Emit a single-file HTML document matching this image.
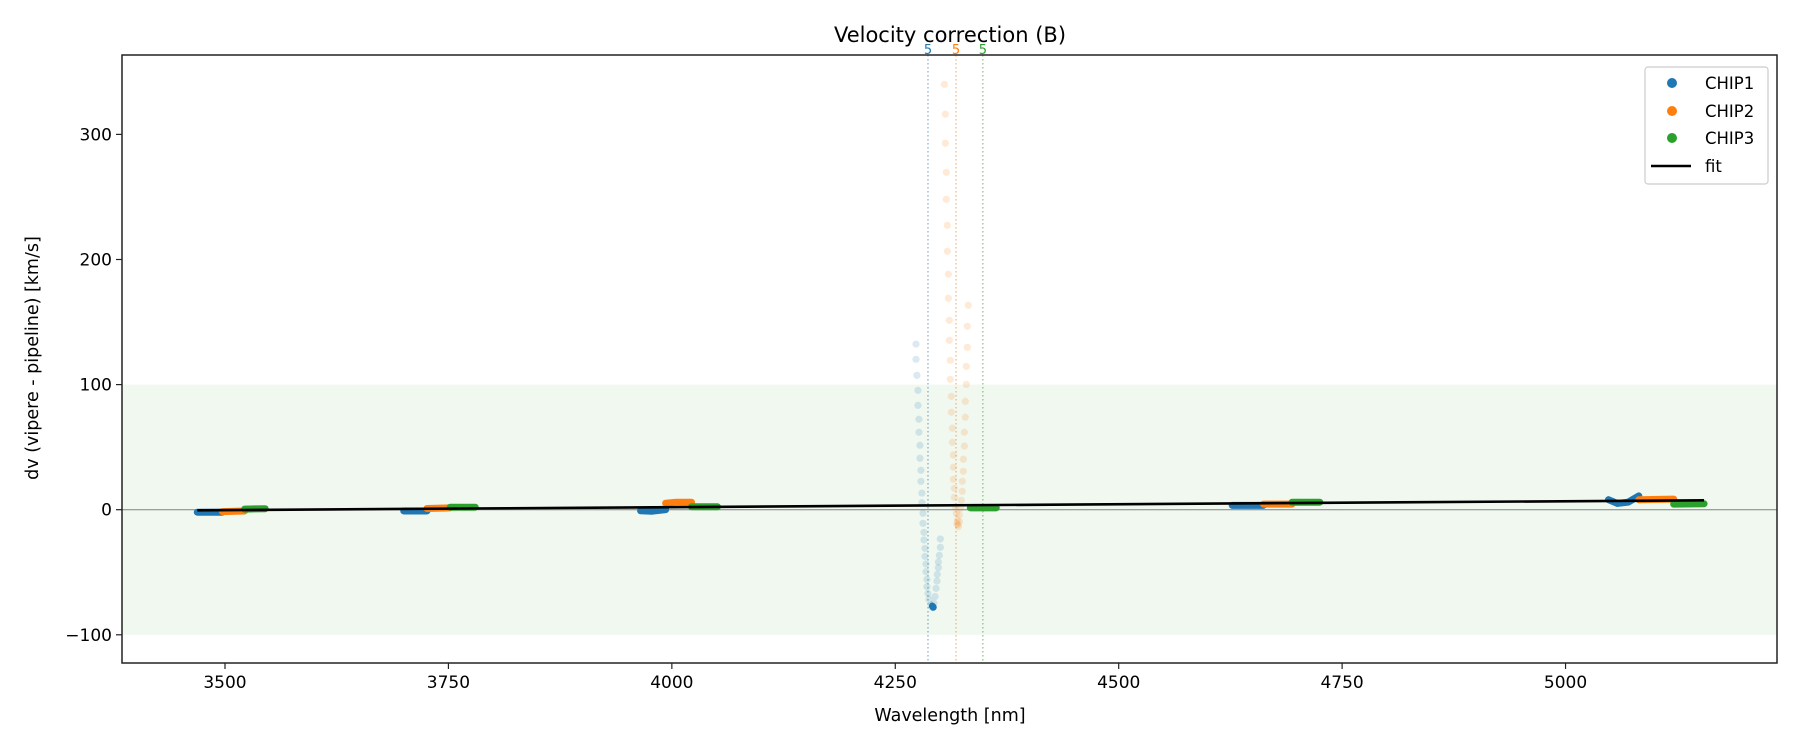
<!DOCTYPE html>
<html><head><meta charset="utf-8"><style>
html,body{margin:0;padding:0;background:#fff;}
svg{display:block;font-family:"DejaVu Sans","Liberation Sans",sans-serif;}
</style></head><body>
<svg id="chart" width="1800" height="750" viewBox="0 0 1800 750" xmlns="http://www.w3.org/2000/svg">
<text x="950" y="42" font-size="21" text-anchor="middle" fill="#000">Velocity correction (B)</text>
<g id="plot"></g>
<text x="950" y="721" font-size="17.5" text-anchor="middle">Wavelength [nm]</text>
<text transform="translate(38,358) rotate(-90)" font-size="17.5" text-anchor="middle">dv (vipere - pipeline) [km/s]</text>
<g>
<rect x="1645" y="67" width="123" height="117" rx="3" fill="#fff" fill-opacity="0.8" stroke="#ccc" stroke-width="1.2"/>
<g><circle cx="1672" cy="83" r="5" fill="#1f77b4"/><text x="1705" y="89" font-size="16.5">CHIP1</text></g>
<g><circle cx="1672" cy="111" r="5" fill="#ff7f0e"/><text x="1705" y="117" font-size="16.5">CHIP2</text></g>
<g><circle cx="1672" cy="138" r="5" fill="#2ca02c"/><text x="1705" y="144" font-size="16.5">CHIP3</text></g>
<g><line x1="1651" y1="166" x2="1691" y2="166" stroke="#000" stroke-width="2.5"/><text x="1705" y="172" font-size="16.5">fit</text></g>
</g>
</svg>
<script>
const xTicks=[3500,3750,4000,4250,4500,4750,5000];
const yTicks=[-100,0,100,200,300];
const chipLines=[4286.6,4318,4348];
const chipLineLabels=["5","5","5"];
// dense segments (wavelength, dv)
const blueSegs=[[[3469,-2],[3497,-2]],[[3700,-1],[3726,-1]],[[3965,-0.8],[3978,-1.2],[3993,0]],[[4627,3.5],[4662,3.5]],[[5048,8],[5058,5],[5070,6],[5082,11]],[[4291.5,-77],[4292.5,-78]]];
const orangeSegs=[[[3497,-1.5],[3522,-1]],[[3726,1],[3752,1.5]],[[3993,5.2],[4005,6],[4022,6]],[[4662,4.5],[4694,4.5]],[[5082,8],[5121,8.5]]];
const greenSegs=[[[3522,0.5],[3545,0.8]],[[3752,2],[3780,2]],[[4022,2.4],[4051,2.4]],[[4334,1.5],[4363,1.5]],[[4694,6],[4725,6]],[[5121,4.5],[5155,4.8]]];
// faint scattered points
const blueW=[4273.2,4273.2,4274.2,4275.4,4275.4,4276.5,4276.5,4277.6,4277.6,4278.7,4278.7,4279.8,4279.8,4281.0,4281.0,4282.1,4282.1,4283.2,4283.2,4284.3,4284.3,4285.4,4285.4,4286.6,4287.7,4289.9,4291.4,4293.3,4294.5,4295.6,4296.7,4297.0,4298.2,4298.2,4299.3,4300.4,4300.4];
const blueV=[132.4,120.2,107.4,95.4,83.4,72.3,61.9,51.5,41.1,31.5,22.7,13.3,5.6,-2.9,-10.9,-18.1,-24.2,-30.9,-37.3,-43.4,-49.6,-55.7,-61.5,-66.9,-71.7,-76.2,-78.0,-74.8,-69.4,-62.9,-57.0,-51.7,-46.4,-41.8,-36.5,-30.1,-23.4];
const orangeW=[4304.9,4306.0,4306.0,4307.1,4307.1,4308.3,4308.3,4309.4,4309.4,4310.5,4310.5,4311.6,4311.6,4312.7,4312.7,4313.9,4313.9,4315.0,4315.0,4315.0,4316.1,4316.1,4317.2,4318.3,4319.5,4320.6,4320.0,4319.0,4331.7,4330.6,4330.6,4329.5,4329.5,4328.4,4328.4,4327.3,4327.3,4326.2,4326.2,4325.0,4325.0,4323.9,4322.8,4321.7,4321.7];
const orangeV=[340.0,316.1,292.9,269.7,248.1,227.3,206.6,188.2,169.0,151.4,135.4,119.4,104.2,90.6,77.9,65.1,53.9,43.7,33.9,24.3,17.1,9.9,2.4,-2.9,-8.2,-13.6,-12,-11,163.4,146.6,129.8,114.6,100.2,86.6,73.9,61.9,50.9,40.3,30.7,22.7,14.7,7.5,1.1,-4.2,-9.6];
const fitW=[3469,5155];
const fitV=[-0.5,7.5];

const X0=225,PXNM=0.8937,Y0=509.7,PXV=1.251;
const L=122,R=1777,T=55,B=663;
function sx(w){return X0+(w-3500)*PXNM;}
function sy(v){return Y0-v*PXV;}
const NS="http://www.w3.org/2000/svg";
const g=document.getElementById('plot');
function mk(tag,attrs,parent){const e=document.createElementNS(NS,tag);for(const k in attrs)e.setAttribute(k,attrs[k]);(parent||g).appendChild(e);return e;}

const band=mk('rect',{x:L,y:sy(100),width:R-L,height:sy(-100)-sy(100),fill:'#2ca02c','fill-opacity':0.07});


const zl=mk('line',{x1:L,x2:R,y1:sy(0),y2:sy(0),stroke:'#808080','stroke-width':1});



const cols=['#1f77b4','#ff7f0e','#2ca02c'];
chipLines.forEach((w,i)=>{
  const l=mk('line',{x1:sx(w),x2:sx(w),y1:T,y2:B,stroke:cols[i],'stroke-width':1.2,'stroke-dasharray':'1.5,2.5','stroke-opacity':0.6});
  
  
  const t=mk('text',{x:sx(w),y:T-1,'font-size':13,'text-anchor':'middle',fill:cols[i]});
  t.textContent=chipLineLabels[i];
  
  
});

function pts(W,V,c){W.forEach((w,i)=>{const p=mk('circle',{cx:sx(w),cy:sy(V[i]),r:3.6,fill:c,'fill-opacity':0.16});
  
  });}
pts(blueW,blueV,cols[0]);pts(orangeW,orangeV,cols[1]);

function segs(S,c){S.forEach(s=>{const p=mk('polyline',{points:s.map(q=>sx(q[0])+','+sy(q[1])).join(' '),fill:'none',stroke:c,'stroke-width':7,'stroke-linecap':'round','stroke-linejoin':'round'});
  
  });}
segs(blueSegs,cols[0]);segs(orangeSegs,cols[1]);segs(greenSegs,cols[2]);

const fit=mk('polyline',{points:fitW.map((w,i)=>sx(w)+','+sy(fitV[i])).join(' '),fill:'none',stroke:'#000','stroke-width':2.6});



const frame=mk('rect',{x:L,y:T,width:R-L,height:B-T,fill:'none',stroke:'#222','stroke-width':1.5});



xTicks.forEach(v=>{
  const x=sx(v);
  const tk=mk('line',{x1:x,x2:x,y1:B,y2:B+6,stroke:'#222','stroke-width':1.2});
  
  
  const t=mk('text',{x:x,y:B+25,'font-size':17,'text-anchor':'middle'});
  t.textContent=v;
  
  
});
yTicks.forEach(v=>{
  const y=sy(v);
  const tk=mk('line',{x1:L-6,x2:L,y1:y,y2:y,stroke:'#222','stroke-width':1.2});
  
  
  const t=mk('text',{x:L-10,y:y+6,'font-size':17,'text-anchor':'end'});
  t.textContent=v<0?'\u2212'+Math.abs(v):v;
  
  
});
</script>
</body></html>
